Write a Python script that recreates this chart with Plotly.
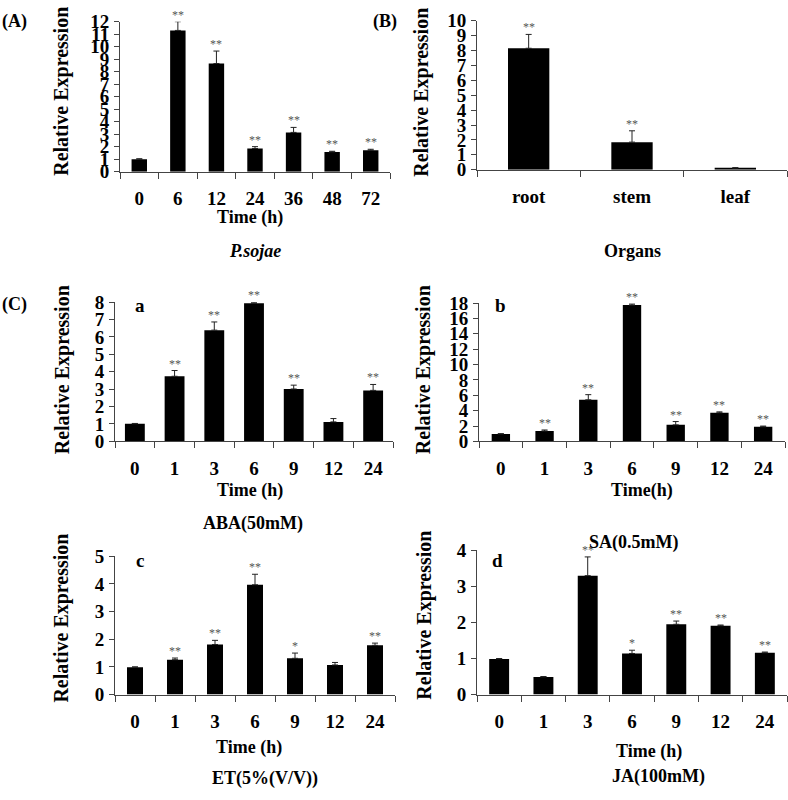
import plotly.graph_objects as go

W, H = 788, 800
FONT = "Liberation Serif"

# ---- data ----
time_A = ["0", "6", "12", "24", "36", "48", "72"]
val_A = [1.0, 11.3, 8.65, 1.85, 3.14, 1.58, 1.71]
err_A = [0.03, 0.7, 1.0, 0.15, 0.4, 0.05, 0.08]
sig_A = ["", "**", "**", "**", "**", "**", "**"]

organs_B = ["root", "stem", "leaf"]
val_B = [8.15, 1.85, 0.11]
err_B = [0.93, 0.76, 0.03]
sig_B = ["**", "**", ""]

time_C = ["0", "1", "3", "6", "9", "12", "24"]

val_a = [1.01, 3.74, 6.39, 7.93, 3.01, 1.12, 2.93]
err_a = [0.02, 0.33, 0.47, 0.05, 0.22, 0.19, 0.34]
sig_a = ["", "**", "**", "**", "**", "", "**"]

val_b = [0.97, 1.35, 5.41, 17.74, 2.15, 3.72, 1.90]
err_b = [0.03, 0.13, 0.67, 0.13, 0.43, 0.12, 0.09]
sig_b = ["", "**", "**", "**", "**", "**", "**"]

val_c = [0.99, 1.26, 1.81, 3.97, 1.31, 1.07, 1.78]
err_c = [0.01, 0.06, 0.15, 0.38, 0.19, 0.09, 0.08]
sig_c = ["", "**", "**", "**", "*", "", "**"]

val_d = [0.99, 0.49, 3.30, 1.14, 1.95, 1.91, 1.16]
err_d = [0.01, 0.01, 0.52, 0.09, 0.09, 0.02, 0.02]
sig_d = ["", "", "**", "*", "**", "**", "**"]

# ---- layout in pixels ----
panels = [
    dict(cats=time_A, v=val_A, e=err_A, s=sig_A, xp=(120, 390), yp=(166, 12), yr=12, dt=1, bw=0.4),
    dict(cats=organs_B, v=val_B, e=err_B, s=sig_B, xp=(477, 787), yp=(164, 11), yr=10, dt=1, bw=0.4),
    dict(cats=time_C, v=val_a, e=err_a, s=sig_a, xp=(115, 393), yp=(443, 300), yr=8, dt=1, bw=0.5),
    dict(cats=time_C, v=val_b, e=err_b, s=sig_b, xp=(479, 785), yp=(443, 301), yr=18, dt=2, bw=0.42),
    dict(cats=time_C, v=val_c, e=err_c, s=sig_c, xp=(115, 395), yp=(703, 561), yr=5, dt=1, bw=0.4),
    dict(cats=time_C, v=val_d, e=err_d, s=sig_d, xp=(477, 787), yp=(703, 555), yr=4, dt=1, bw=0.45),
]

fig = go.Figure()
annotations = []
AX = "#444"
TICKFONT = dict(family=FONT, size=19, color="black", weight="bold")

for i, p in enumerate(panels, start=1):
    xs = "" if i == 1 else str(i)
    idx = list(range(len(p["cats"])))
    fig.add_trace(go.Bar(
        x=idx, y=p["v"], width=p["bw"],
        marker=dict(color="black", line=dict(width=0)),
        error_y=dict(type="data", symmetric=False, array=p["e"],
                     arrayminus=[0] * len(p["e"]), color="#222", thickness=1, width=3),
        xaxis="x" + xs, yaxis="y" + xs, showlegend=False,
    ))
    xd = [p["xp"][0] / W, p["xp"][1] / W]
    yd = [1 - p["yp"][0] / H, 1 - p["yp"][1] / H]
    fig.layout["xaxis" + xs] = dict(
        domain=xd, anchor="y" + xs,
        range=[-0.5, len(p["cats"]) - 0.5],
        tickmode="array", tickvals=idx, ticktext=p["cats"],
        showline=True, linecolor=AX, linewidth=1, showgrid=False, zeroline=False,
        ticks="", tickfont=TICKFONT, ticklabelstandoff=10, fixedrange=True,
        minor=dict(tickmode="array", tickvals=[j - 0.5 for j in range(len(p["cats"]) + 1)],
                   ticks="outside", ticklen=6, tickcolor=AX, showgrid=False),
    )
    fig.layout["yaxis" + xs] = dict(
        domain=yd, anchor="x" + xs, range=[0, p["yr"]],
        tickmode="linear", tick0=0, dtick=p["dt"],
        showline=True, linecolor=AX, linewidth=1, showgrid=False, zeroline=False,
        ticks="outside", ticklen=5, tickcolor=AX,
        tickfont=TICKFONT, ticklabelstandoff=1, fixedrange=True,
    )
    for j, (v, e, s) in enumerate(zip(p["v"], p["e"], p["s"])):
        if s:
            annotations.append(dict(
                x=j, y=v + e, xref="x" + xs, yref="y" + xs, text=s, showarrow=False,
                yanchor="bottom", yshift=-2,
                font=dict(family=FONT, size=12, color="#555555"),
            ))


def txt(x, y, t, size=18, angle=0, italic=False):
    annotations.append(dict(
        x=x / W, y=1 - y / H, xref="paper", yref="paper", text=t, showarrow=False,
        xanchor="center", yanchor="middle", textangle=angle,
        font=dict(family=FONT, size=size, color="black", weight="bold",
                  style="italic" if italic else "normal"),
    ))


# y-axis titles
for x, y in [(62, 84), (422, 85), (62, 370), (423, 370), (62, 625), (425, 622)]:
    txt(x, y, "Relative Expression", size=20, angle=-90)

# panel letters
txt(14, 12, "(A)", 18)
txt(385, 12, "(B)", 18)
txt(14, 302, "(C)", 18)
txt(140, 303, "a", 19)
txt(500, 303, "b", 19)
txt(140, 565, "c", 19)
txt(497, 565, "d", 19)

# x titles
txt(250, 213, "Time (h)")
txt(250, 493, "Time (h)")
txt(642, 493, "Time(h)")
txt(249, 757, "Time (h)")
txt(649, 762, "Time (h)")

# treatment labels
txt(255, 248, "P.sojae", italic=True)
txt(632, 248, "Organs")
txt(253, 527, "ABA(50mM)")
txt(633, 547, "SA(0.5mM)")
txt(265, 789, "ET(5%(V/V))")
txt(658, 787, "JA(100mM)")

fig.update_layout(
    width=W, height=H, margin=dict(l=0, r=0, t=0, b=0),
    paper_bgcolor="white", plot_bgcolor="white",
    annotations=annotations,
)

fig.write_html(
    "out.html",
    config={"displayModeBar": False},
    post_script="document.body.style.margin='0';document.body.style.padding='0';",
)
